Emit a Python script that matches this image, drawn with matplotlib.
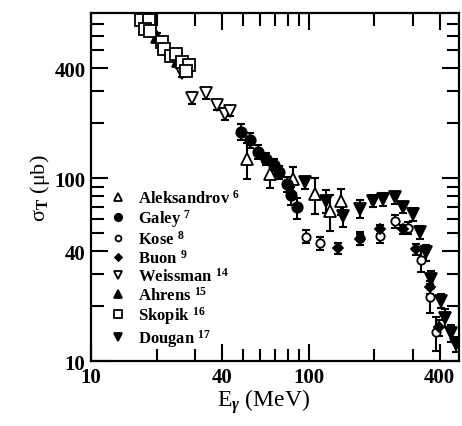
import matplotlib
matplotlib.use('Agg')
import matplotlib.pyplot as plt
from matplotlib.ticker import FixedLocator, FixedFormatter, NullFormatter

plt.rcParams['font.family'] = 'Liberation Serif'
plt.rcParams['font.weight'] = 'bold'
plt.rcParams['mathtext.fontset'] = 'custom'
plt.rcParams['mathtext.rm'] = 'Liberation Serif:bold'
plt.rcParams['mathtext.it'] = 'Liberation Serif:italic:bold'
plt.rcParams['mathtext.bf'] = 'Liberation Serif:bold'

# photon energy (MeV), cross section (ub), error (ub)
aleks_e = [51.8, 66.2, 84.7, 106.6, 124.8, 141.2]
aleks_s = [127, 105, 99.4, 81.8, 66.3, 75.2]
aleks_err = [28, 17, 16, 18, 15, 12]

galey_e = [48.6, 54.0, 58.5, 63.5, 69.0, 72.8, 79.5, 83.3, 87.9]
galey_s = [179, 162, 140, 128, 118, 108, 92.7, 80.7, 69.2]
galey_err = [18, 15, 12, 10, 9, 9, 9, 9, 9]

kose_e = [97.6, 113.2, 171.3, 211.6, 247.9, 285.5, 328.8, 359.0, 385.2]
kose_s = [48.0, 44.2, 47.0, 48.4, 58.2, 53.3, 35.6, 22.4, 14.4]
kose_err = [4, 3.5, 4, 4, 5, 4, 5, 4, 3]

buon_e = [136.3, 171.3, 211.6, 270.8, 311.9, 359.0, 396.0]
buon_s = [41.3, 46.4, 52.6, 52.6, 40.9, 25.3, 15.3]
buon_err = [3, 3, 3, 3, 3, 2, 1.5]

weiss_e = [26.1, 29.0, 33.7, 37.9, 41.2, 43.4]
weiss_s = [375, 276, 291, 250, 224, 233]
weiss_err = [18, 22, 20, 15, 17, 15]

ahrens_e = [20.1, 25.0]
ahrens_s = [595, 437]
ahrens_err = [30, 22]

skopik_e = [16.9, 18.5, 17.7, 18.7, 21.2, 21.6, 23.3, 24.5, 26.1, 28.2, 27.3]
skopik_s = [733, 733, 652, 636, 553, 507, 464, 476, 430, 414, 384]

dougan_e = [95.9, 120.5, 143.6, 171.3, 197.2, 219.2, 247.9, 270.8, 300.8,
            322.8, 346.5, 365.3, 406.0, 420.7, 451.5, 476.2]
dougan_s = [94.8, 75.2, 62.2, 68.3, 75.2, 76.8, 78.5, 69.2, 63.6,
            50.5, 39.4, 28.1, 21.4, 17.3, 14.2, 12.4]
dougan_err = [7, 11, 8, 8, 6, 6, 6, 5, 5, 4, 4, 3, 2, 2, 1.5, 1.2]

x_ticks = [10, 40, 100, 400]
y_ticks = [10, 40, 100, 400]

fig = plt.figure(figsize=(4.62, 4.27), dpi=100)
ax = fig.add_axes([0.197, 0.152, 0.7965, 0.815])
ax.set_xscale('log')
ax.set_yscale('log')

series = [
    (aleks_e, aleks_s, aleks_err, '^', 'white', 9, r'Aleksandrov $^{6}$'),
    (galey_e, galey_s, galey_err, 'o', 'black', 7.5, r'Galey $^{7}$'),
    (kose_e, kose_s, kose_err, 'o', 'white', 6, r'Kose $^{8}$'),
    (buon_e, buon_s, buon_err, 'D', 'black', 5, r'Buon $^{9}$'),
    (weiss_e, weiss_s, weiss_err, 'v', 'white', 9, r'Weissman $^{14}$'),
    (ahrens_e, ahrens_s, ahrens_err, '^', 'black', 9, r'Ahrens $^{15}$'),
    (skopik_e, skopik_s, None, 's', 'white', 8, r'Skopik $^{16}$'),
    (dougan_e, dougan_s, dougan_err, 'v', 'black', 8.5, r'Dougan $^{17}$'),
]

handles = []
for e, s, err, m, fc, ms, lab in series:
    if err is not None:
        ax.errorbar(e, s, yerr=err, fmt='none', ecolor='black', elinewidth=1.5,
                    capsize=3, capthick=1.5, zorder=2)
    h, = ax.plot(e, s, linestyle='none', marker=m, markersize=ms,
                 markerfacecolor=fc, markeredgecolor='black',
                 markeredgewidth=1.3, label=lab, zorder=3)
    handles.append(h)

ax.set_xlim(10, 490)
ax.set_ylim(10, 800)

ax.xaxis.set_major_locator(FixedLocator(x_ticks))
ax.xaxis.set_major_formatter(FixedFormatter([str(v) for v in x_ticks]))
ax.xaxis.set_minor_locator(FixedLocator([20, 30, 50, 60, 70, 80, 90, 200, 300]))
ax.xaxis.set_minor_formatter(NullFormatter())
ax.yaxis.set_major_locator(FixedLocator(y_ticks))
ax.yaxis.set_major_formatter(FixedFormatter([str(v) for v in y_ticks]))
ax.yaxis.set_minor_locator(FixedLocator([20, 30, 50, 60, 70, 80, 90,
                                         200, 300, 500, 600, 700]))
ax.yaxis.set_minor_formatter(NullFormatter())

ax.tick_params(which='both', direction='in', top=True, right=True,
               width=1.5, labelsize=15)
ax.tick_params(which='major', length=12, pad=4)
ax.tick_params(which='minor', length=9)
for sp in ax.spines.values():
    sp.set_linewidth(1.6)

ax.set_xlabel(r'E$_{\gamma}$ (MeV)', fontsize=17, labelpad=0)
ax.xaxis.label.set_x(0.47)
ax.set_ylabel(r'σ$_{\mathrm{T}}$ (μb)', fontsize=16, fontweight='normal',
              labelpad=2)

ax.legend(handles=handles, loc='upper left', bbox_to_anchor=(0.051, 0.495),
          frameon=False, fontsize=12, handlelength=1.0, handletextpad=0.7,
          labelspacing=0.04, borderpad=0, borderaxespad=0, markerscale=0.7)

fig.savefig('out.png', dpi=100)
